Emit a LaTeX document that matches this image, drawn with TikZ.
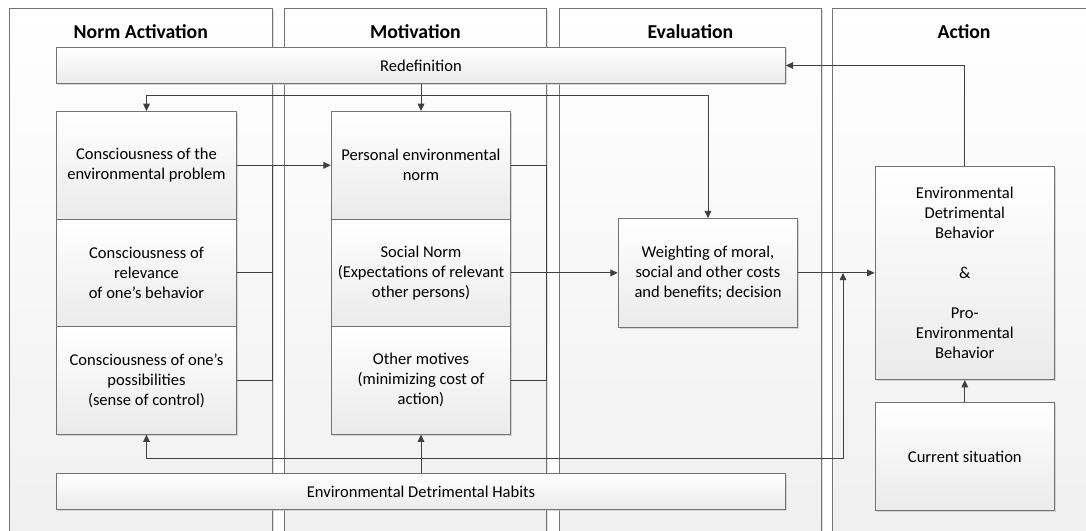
\documentclass[tikz,border=0pt]{standalone}
\usepackage{fontspec}
\setmainfont{Carlito}
\usetikzlibrary{arrows.meta,shadows}

\begin{document}
\begin{tikzpicture}[x=0.75pt,y=-0.75pt,font=\fontsize{12.4pt}{15pt}\selectfont,
  lane/.style={draw=black!55,line width=0.75pt,top color=white,bottom color=black!6,
    drop shadow={shadow xshift=1pt,shadow yshift=-1pt,fill=black!25,opacity=0.5}},
  lanetitle/.style={font=\fontsize{14.8pt}{16pt}\selectfont\bfseries},
  box/.style={draw=black!55,line width=0.75pt,top color=white,bottom color=black!8,
    drop shadow={shadow xshift=1.2pt,shadow yshift=-1.2pt,fill=black!25,opacity=0.6},
    align=center,inner sep=2pt},
  stackbox/.style={box,minimum width=134.6pt,minimum height=80.6pt},
  bar/.style={box,minimum width=546.4pt,minimum height=27pt},
  conn/.style={draw=black!75,line width=0.75pt},
  arr/.style={conn,-{Triangle[length=5.5pt,width=5pt]}}]
  \useasboundingbox (0,0) rectangle (1086,531);
  \clip (0,0) rectangle (1086,531);

  \foreach \i/\xa/\t in {1/9.4/Norm Activation,2/284/Motivation,3/559/Evaluation,4/832.7/Action} {
    \path[lane] (\xa,8.3) rectangle ++(262.8,540);
    \node[lanetitle] (t\i) at (\xa+131.4,32) {\t};
  }

  \node[bar] (redef) at (421,65.5) {Redefinition};
  \node[bar] (hab) at (421,491.7) {Environmental Detrimental Habits};

  \node[stackbox] (c1) at (146.5,165.3) {Consciousness of the\\environmental problem};
  \node[stackbox] (c2) at (146.5,272.9) {Consciousness of\\relevance\\of one’s behavior};
  \node[stackbox] (c3) at (146.5,380.4) {Consciousness of one’s\\possibilities\\(sense of control)};

  \node[stackbox] (m1) at (421,165.3) {Personal environmental\\norm};
  \node[stackbox] (m2) at (421,272.9) {Social Norm\\(Expectations of relevant\\other persons)};
  \node[stackbox] (m3) at (421,380.4) {Other motives\\(minimizing cost of\\action)};

  \node[stackbox,minimum height=81.3pt] (wt) at (708,272.9) {Weighting of moral,\\social and other costs\\and benefits; decision};
  \node[stackbox,minimum height=160pt] (act) at (964.8,272.9)
    {Environmental\\Detrimental\\Behavior\\[15pt]\&\\[15pt]Pro-\\Environmental\\Behavior};
  \node[stackbox,minimum height=81pt] (cur) at (964.8,456.7) {Current situation};

  \coordinate (top) at (421,95.7);
  \coordinate (na) at (272.3,165.3);
  \coordinate (mo) at (546.7,272.9);
  \coordinate (bot) at (421,458.3);
  \coordinate (join) at (843,272.9);

  \draw[arr] (act.north) |- (redef.east);
  \draw[arr] (redef.south) -- (m1.north);
  \draw[arr] (top) -| (c1.north);
  \draw[arr] (top) -| (wt.north);
  \draw[arr] (c1.east) -- (m1.west);
  \draw[conn] (c2.east) -| (na);
  \draw[conn] (c3.east) -| (na);
  \draw[conn] (m1.east) -| (mo);
  \draw[conn] (m3.east) -| (mo);
  \draw[arr] (m2.east) -- (wt.west);
  \draw[arr] (wt.east) -- (act.west);
  \draw[arr] (cur.north) -- (act.south);
  \draw[arr] (hab.north) -- (m3.south);
  \draw[arr] (bot) -| (c3.south);
  \draw[arr] (bot) -| (join);
\end{tikzpicture}
\end{document}
